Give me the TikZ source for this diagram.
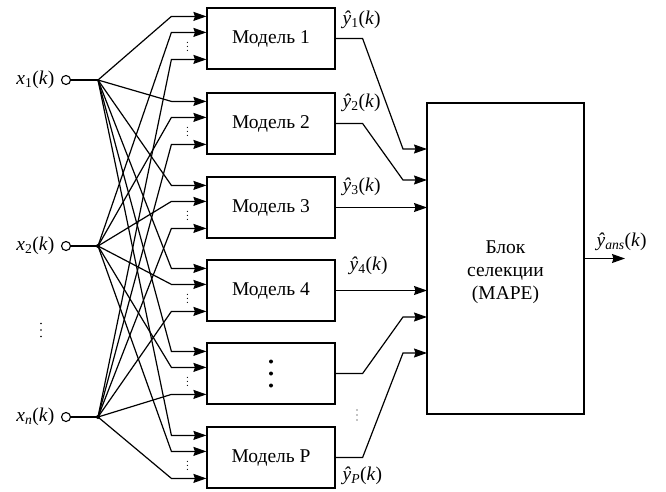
\documentclass[tikz,border=0pt]{standalone}
\usepackage{fontspec}
\setmainfont{Liberation Serif}
\usetikzlibrary{arrows.meta,calc}
\begin{document}
\begin{tikzpicture}[x=1pt,y=-1pt,line width=1.2pt,
  model/.style={draw,minimum width=128pt,minimum height=61pt,inner sep=0pt,font=\fontsize{19.5}{22}\selectfont},
  arr/.style={-{Stealth[length=13pt,width=9pt,inset=1.5pt]}},
  lbl/.style={font=\fontsize{19.5}{22}\selectfont,inner sep=0pt},
  incirc/.style={circle,draw,fill=white,minimum size=9pt,inner sep=0pt,line width=1.1pt}]
\useasboundingbox (0,0) rectangle (666,491);
% models
\node[model] (m1) at (271,38.5) {Модель 1};
\node[model] (m2) at (271,123.5) {Модель 2};
\node[model] (m3) at (271,207.5) {Модель 3};
\node[model] (m4) at (271,290.5) {Модель 4};
\node[model] (m5) at (271,373.5) {};
\node[model] (m6) at (271,457.5) {Модель P};
\foreach \d in {-12,0,12} \fill ($(m5.center)+(0,\d)$) circle (2pt);
% selection block
\node[draw,minimum width=157pt,minimum height=311pt,inner sep=0pt] (sel) at (505.5,258.5) {};
\node[lbl,align=center,font=\fontsize{19.5}{23}\selectfont] (seltxt) at (505.5,272) {Блок\\селекции\\(MAPE)};
% inputs
\node[incirc] (c1) at (66,80) {};
\node[incirc] (c2) at (66,246) {};
\node[incirc] (c3) at (66,417) {};
\coordinate (j1) at (98,80);
\coordinate (j2) at (98,246);
\coordinate (j3) at (98,417);
\draw (c1) -- (j1);
\draw (c2) -- (j2);
\draw (c3) -- (j3);
\fill (j2) circle (2pt);
\fill (j3) circle (2pt);
\node[lbl,anchor=east] (x1) at (55,80) {\textit{x}\textsubscript{1}(\textit{k})};
\node[lbl,anchor=east] (x2) at (55,246) {\textit{x}\textsubscript{2}(\textit{k})};
\node[lbl,anchor=east] (xn) at (55,417) {\textit{x}\textsubscript{\textit{n}}(\textit{k})};
\foreach \d in {-6.5,0,6.5} \fill (41,330+\d) circle (0.9pt);
% input connectors
\foreach \i in {1,...,6} {
  \draw[arr] (j1) -- ($(m\i.north west)+(-35,9)$) -- ($(m\i.north west)+(0,9)$);
  \draw[arr] (j2) -- ($(m\i.north west)+(-35,25)$) -- ($(m\i.north west)+(0,25)$);
  \draw[arr] (j3) -- ($(m\i.north west)+(-35,52)$) -- ($(m\i.north west)+(0,52)$);
  \foreach \d in {-4,0,4} \fill ($(m\i.north west)+(-19,39+\d)$) circle (0.6pt);
}
% selection inputs
\coordinate (s1) at (427,149);
\coordinate (s2) at (427,180);
\coordinate (s3) at (427,207.5);
\coordinate (s4) at (427,290.5);
\coordinate (s5) at (427,317);
\coordinate (s6) at (427,353);
\draw[arr] (m1.east) -- ++(27,0) -- ([xshift=-24pt]s1) -- (s1);
\draw[arr] (m2.east) -- ++(27,0) -- ([xshift=-24pt]s2) -- (s2);
\draw[arr] (m3.east) -- (s3);
\draw[arr] (m4.east) -- (s4);
\draw[arr] (m5.east) -- ++(27,0) -- ([xshift=-24pt]s5) -- (s5);
\draw[arr] (m6.east) -- ++(27,0) -- ([xshift=-24pt]s6) -- (s6);
\foreach \d in {-5,0,5} \fill (357,415+\d) circle (0.6pt);
% output labels
\node[lbl,anchor=west] (y1) at (342,20) {\textit{ŷ}\textsubscript{1}(\textit{k})};
\node[lbl,anchor=west] (y2) at (342,103) {\textit{ŷ}\textsubscript{2}(\textit{k})};
\node[lbl,anchor=west] (y3) at (342,187) {\textit{ŷ}\textsubscript{3}(\textit{k})};
\node[lbl,anchor=west] (y4) at (349,266) {\textit{ŷ}\textsubscript{4}(\textit{k})};
\node[lbl,anchor=west] (yp) at (342,476) {\textit{ŷ}\textsubscript{\textit{P}}(\textit{k})};
% output
\coordinate (out) at (625,258.5);
\draw[arr] (sel.east) -- (out);
\node[lbl,anchor=west] (yans) at (596,242) {\textit{ŷ}\textsubscript{\textit{ans}}(\textit{k})};
\end{tikzpicture}
\end{document}
